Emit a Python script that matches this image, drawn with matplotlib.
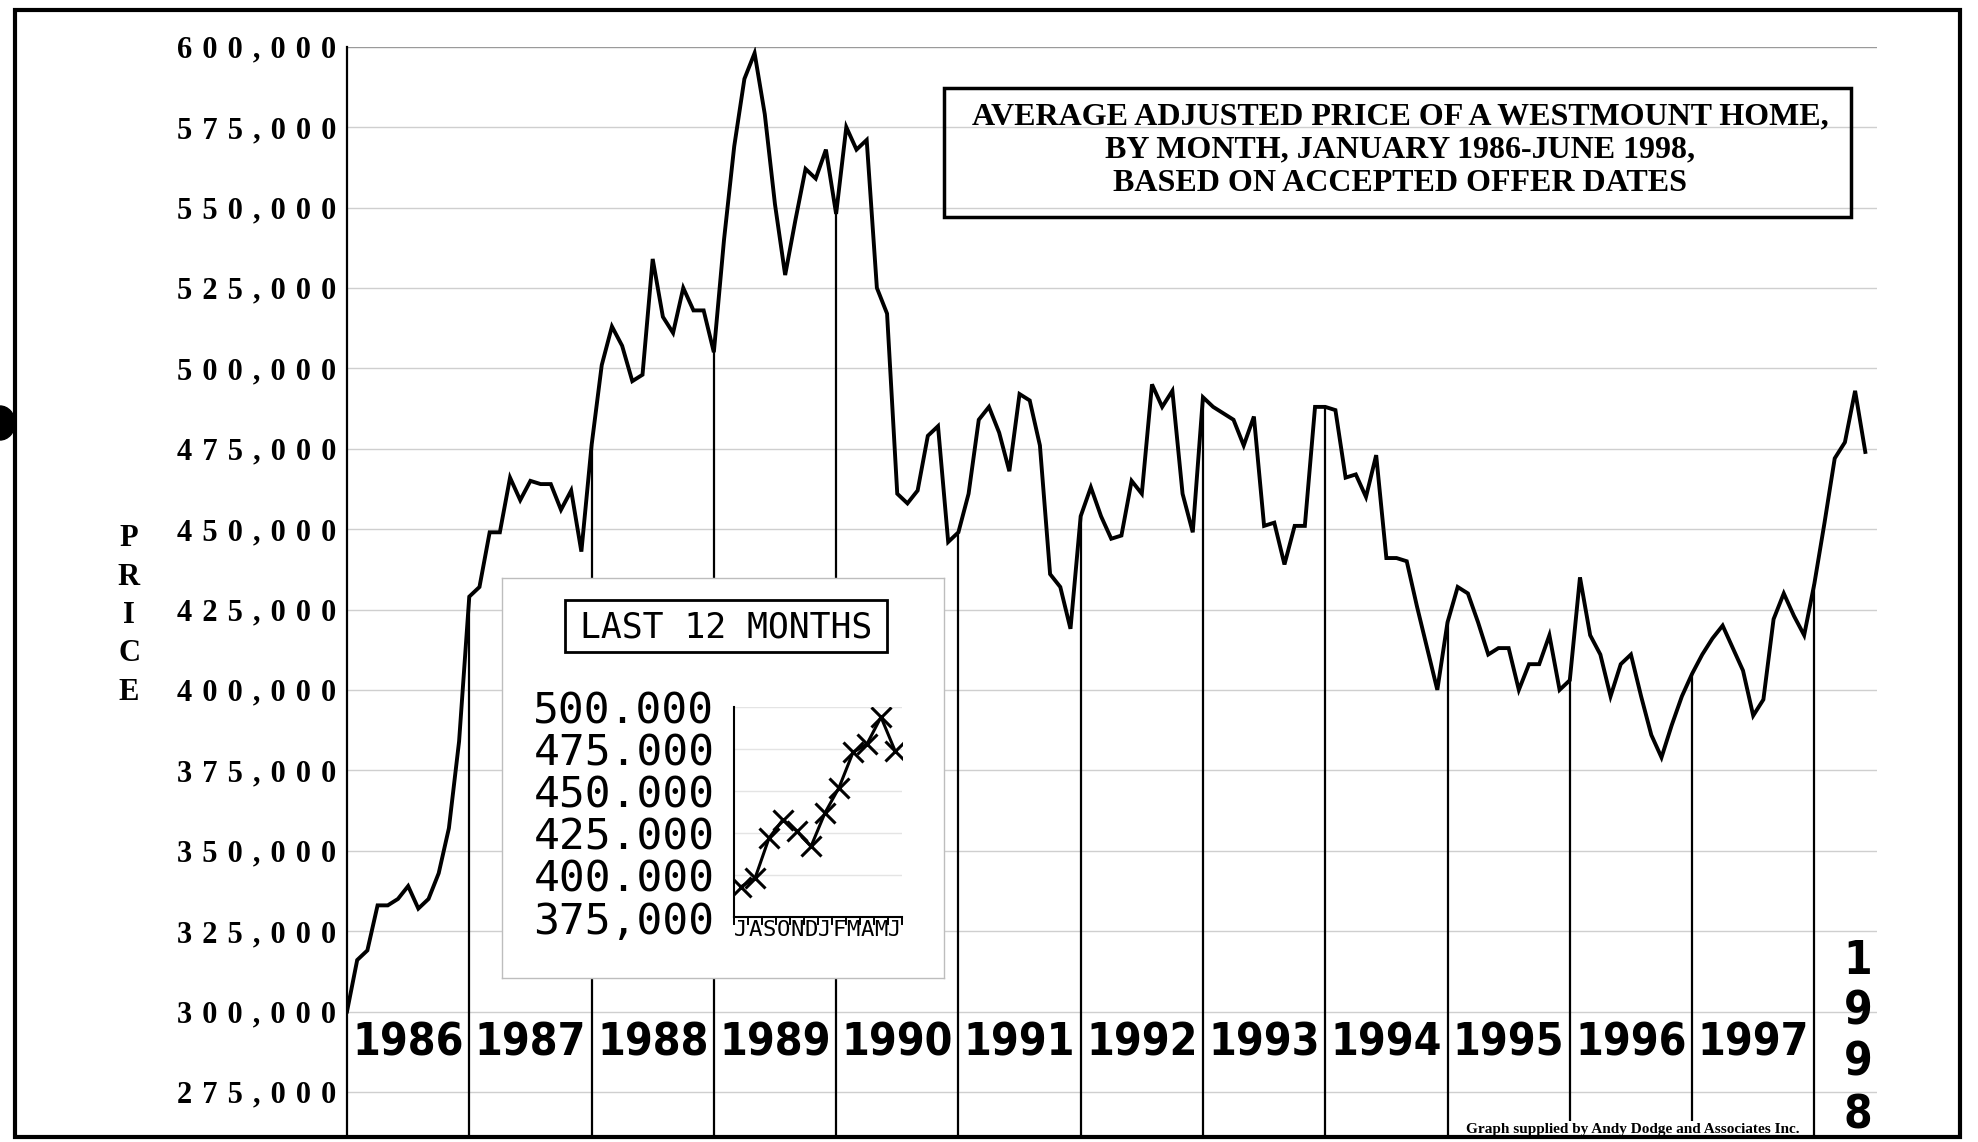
import matplotlib.pyplot as plt
from matplotlib.patches import Rectangle, Ellipse

# monthly average adjusted price, in thousands of dollars
p1986 = [300, 316, 319, 333, 333, 335, 339, 332, 335, 343, 357, 384]
p1987 = [429, 432, 449, 449, 466, 459, 465, 464, 464, 456, 462, 443]
p1988 = [476, 501, 513, 507, 496, 498, 534, 516, 511, 525, 518, 518]
p1989 = [505, 540, 569, 590, 598, 579, 551, 529, 546, 562, 559, 568]
p1990 = [548, 575, 568, 571, 525, 517, 461, 458, 462, 479, 482, 446]
p1991 = [449, 461, 484, 488, 480, 468, 492, 490, 476, 436, 432, 419]
p1992 = [454, 463, 454, 447, 448, 465, 461, 495, 488, 493, 461, 449]
p1993 = [491, 488, 486, 484, 476, 485, 451, 452, 439, 451, 451, 488]
p1994 = [488, 487, 466, 467, 460, 473, 441, 441, 440, 426, 413, 400]
p1995 = [421, 432, 430, 421, 411, 413, 413, 400, 408, 408, 417, 400]
p1996 = [403, 435, 417, 411, 398, 408, 411, 398, 386, 379, 389, 398]
p1997 = [405, 411, 416, 420, 413, 406, 392, 397, 422, 430, 423, 417]
p1998 = [433, 452, 472, 477, 493, 474]

years = list(range(1986, 1998))
y_ticks = list(range(275, 601, 25))

# inset: last 12 months
last_months = ["J", "A", "S", "O", "N", "D", "J", "F", "M", "A", "M", "J"]
last_values = [393, 398, 422, 433, 426, 417, 437, 452, 473, 478, 494, 474]
last_ticks = [375, 400, 425, 450, 475, 500]
last_labels = ["375,000", "400.000", "425.000", "450.000", "475.000", "500.000"]

prices = (p1986 + p1987 + p1988 + p1989 + p1990 + p1991 + p1992 + p1993
          + p1994 + p1995 + p1996 + p1997 + p1998)
months = list(range(len(prices)))

W, H = 1978, 1142
fig = plt.figure(figsize=(W / 100, H / 100), dpi=100)
fig.patch.set_facecolor("white")


def fx(px):
    return px / W


def fy(py):
    return 1 - py / H


SERIF = ["Liberation Serif", "DejaVu Serif"]
MONO = ["DejaVu Sans Mono"]

# main chart
left, right, top, bottom = 347, 1876.5, 46.7, 1135
ax = fig.add_axes([fx(left), fy(bottom), (right - left) / W, (bottom - top) / H])
ylo = 600 - (bottom - top) / 80.4 * 25
ax.set_xlim(0, 150.1)
ax.set_ylim(ylo, 600)

for v in y_ticks:
    ax.axhline(v, color="#9a9a9a" if v == 600 else "#cfcfcf", lw=1.0, zorder=1)

ax.plot(months, prices, color="black", lw=2.8, solid_joinstyle="miter", zorder=3)
jan = list(range(12, len(prices), 12))
ax.vlines(jan, ylo, [prices[i] for i in jan], color="black", lw=1.6, zorder=3)

# wide letter spacing on the price labels
ax.set_yticks(y_ticks)
ax.set_yticklabels([" \u200a".join(f"{v * 1000:,}") for v in y_ticks],
                   fontsize=22, fontweight="bold", family=SERIF)
ax.tick_params(axis="y", length=0, pad=8)
ax.set_xticks([])
for s in ["top", "right", "bottom"]:
    ax.spines[s].set_visible(False)
ax.spines["left"].set_linewidth(1.6)

for k, yr in enumerate(years):
    ax.text(12 * k + 6, 290.2, str(yr), ha="center", va="center", fontsize=32,
            fontweight="bold", family="DejaVu Sans", fontstretch="condensed")
for ch, yv in zip("1998", [315.7, 299.9, 284.0, 267.6]):
    ax.text(148.3, yv, ch, ha="center", va="center", fontsize=33,
            fontweight="bold", family="DejaVu Sans", fontstretch="condensed")

# vertical axis title
for ch, py in zip("PRICE", [538.7, 577.8, 615.6, 653.5, 692.6]):
    fig.text(fx(129), fy(py), ch, ha="center", va="center", fontsize=22,
             fontweight="bold", family=SERIF)

# title box
fig.patches.append(Rectangle((fx(944), fy(217)), 907 / W, 129 / H,
                             transform=fig.transFigure, fill=False,
                             ec="black", lw=2.5, zorder=5))
fig.text(fx(1400), fy(150),
         "AVERAGE ADJUSTED PRICE OF A WESTMOUNT HOME,\n"
         "BY MONTH, JANUARY 1986-JUNE 1998,\n"
         "BASED ON ACCEPTED OFFER DATES",
         ha="center", va="center", multialignment="center", fontsize=23,
         fontweight="bold", family=SERIF, linespacing=1.2, zorder=6)

# inset panel
bg = fig.add_axes([fx(502), fy(978), 442 / W, 400 / H], zorder=4)
bg.set_facecolor("white")
bg.set_xticks([])
bg.set_yticks([])
for s in bg.spines.values():
    s.set_color("#bdbdbd")
    s.set_linewidth(1.0)

fig.patches.append(Rectangle((fx(565), fy(652)), 322 / W, 52 / H,
                             transform=fig.transFigure, fill=False,
                             ec="black", lw=2.0, zorder=7))
fig.text(fx(726), fy(627), "LAST 12 MONTHS", ha="center", va="center",
         fontsize=25, family=MONO, zorder=7)

ax2 = fig.add_axes([fx(734), fy(917), 168 / W, 210 / H], zorder=6)
ax2.patch.set_alpha(0)
ax2.set_xlim(-0.5, 11.5)
ax2.set_ylim(375, 500)
for v in last_ticks[1:]:
    ax2.axhline(v, color="#e4e4e4", lw=1.0, zorder=1)
ax2.plot(range(12), last_values, color="black", lw=2.2, marker="x",
         markersize=14, markeredgewidth=2.2, zorder=3)
ax2.set_yticks(last_ticks)
ax2.set_yticklabels(last_labels, fontsize=31, family=MONO)
ax2.tick_params(axis="y", length=0, pad=14)
ax2.set_xticks([i - 0.5 for i in range(13)])
ax2.set_xticklabels([])
ax2.set_xticks(range(12), minor=True)
ax2.set_xticklabels(last_months, minor=True, fontsize=16, family=MONO)
ax2.tick_params(axis="x", which="major", direction="out", length=6, width=1.4)
ax2.tick_params(axis="x", which="minor", length=0, pad=2)
ax2.spines["top"].set_visible(False)
ax2.spines["right"].set_visible(False)
ax2.spines["left"].set_linewidth(1.5)
ax2.spines["bottom"].set_linewidth(1.5)

# credit line sits on a white strip that hides the year lines behind it
fig.text(fx(1800), fy(1129), "Graph supplied by Andy Dodge and Associates Inc.",
         ha="right", va="center", fontsize=11, fontweight="bold", family=SERIF,
         bbox=dict(facecolor="white", edgecolor="none", pad=1), zorder=7)

# page border and punch hole
fig.patches.append(Rectangle((fx(15), fy(1137)), 1945 / W, 1127 / H,
                             transform=fig.transFigure, fill=False,
                             ec="black", lw=3, zorder=8))
fig.patches.append(Ellipse((fx(0), fy(423)), 30 / W, 34 / H,
                           transform=fig.transFigure, color="black", zorder=8))

fig.savefig("out.png", dpi=100, facecolor="white")
